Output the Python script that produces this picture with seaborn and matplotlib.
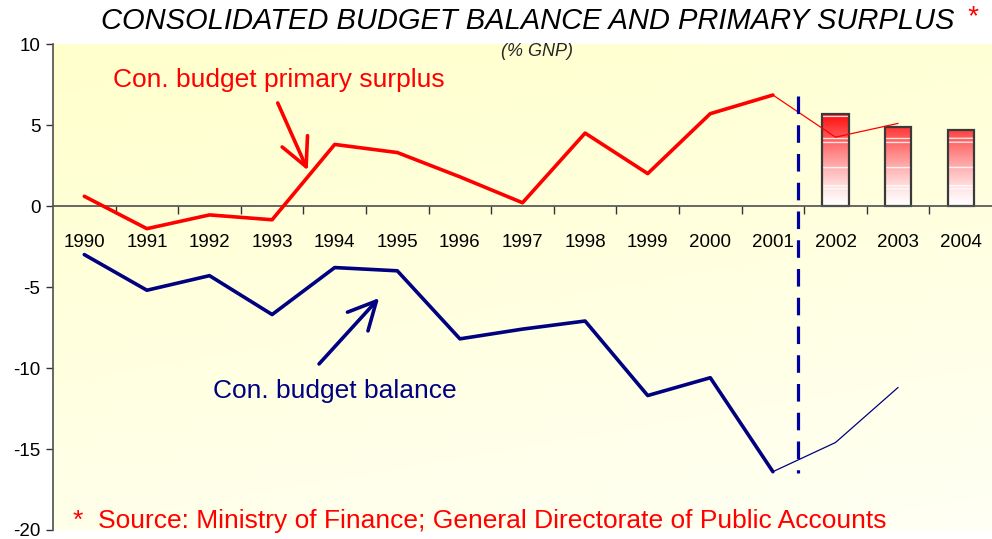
import numpy as np
import matplotlib
matplotlib.use('Agg')
import matplotlib.pyplot as plt
import seaborn as sns
from matplotlib.colors import LinearSegmentedColormap

# data (% GNP)
years = [str(y) for y in range(1990, 2005)]
surplus = [0.6, -1.4, -0.55, -0.85, 3.8, 3.3, 1.8, 0.2, 4.5, 2.0, 5.7, 6.85]
surplus_proj = [6.85, 4.25, 5.1]          # 2001 -> 2003, thin line
balance = [-3.0, -5.2, -4.3, -6.7, -3.8, -4.0, -8.2, -7.6, -7.1, -11.7,
           -10.6, -16.4]
balance_proj = [-16.4, -14.6, -11.2]      # 2001 -> 2003, thin line
bar_years = ['2002', '2003', '2004']
bar_values = [5.7, 4.9, 4.7]
stripe_levels = [5.5, 4.14, 3.9, 2.35, 1.23, 1.05]

RED = '#ff0000'
NAVY = '#000080'

sns.set_theme(style='white')
plt.rcParams['font.family'] = ['Liberation Sans', 'DejaVu Sans']
plt.rcParams['axes.unicode_minus'] = False

pos = np.arange(len(years))
bar_pos = [years.index(y) for y in bar_years]

fig = plt.figure(figsize=(9.92, 5.39), dpi=100)
fig.patch.set_facecolor('white')
ax = fig.add_axes([53 / 992, 9 / 539, 1 - 53 / 992, (530 - 44) / 539])
ax.set_facecolor('white')

# pale yellow background gradient
gy, gx = np.mgrid[0:1:200j, 0:1:200j]
t = np.clip(0.75 * gy + 0.25 * gx, 0, 1)
bg_cmap = LinearSegmentedColormap.from_list('bg', ['#ffffcc', '#fffff4'])
ax.imshow(t, cmap=bg_cmap, extent=[0, 1, 0, 1], transform=ax.transAxes,
          aspect='auto', zorder=0, interpolation='bilinear')

# bars for 2002-2004
sns.barplot(x=bar_pos, y=bar_values, native_scale=True, width=0.42,
            fill=False, edgecolor='#3a3a3a', linewidth=1.6, ax=ax, zorder=3)

vals = np.linspace(6, 0, 600)
grad = np.clip(vals / 5.6, 0, 1) ** 1.3
rgb = np.ones((600, 1, 3))
rgb[:, 0, 1] = 1 - 0.95 * grad
rgb[:, 0, 2] = 1 - 0.95 * grad
for lv in stripe_levels:
    rgb[np.abs(vals - lv) < 0.035] = 1.0
for p in ax.patches:
    x0 = p.get_x()
    im = ax.imshow(rgb, extent=[x0, x0 + p.get_width(), 0, 6],
                   aspect='auto', zorder=2, interpolation='bilinear')
    im.set_clip_path(p)

# lines
sns.lineplot(x=pos[:12], y=surplus, color=RED, linewidth=2.6, ax=ax,
             zorder=5)
sns.lineplot(x=pos[11:14], y=surplus_proj, color=RED, linewidth=0.9, ax=ax,
             zorder=5)
sns.lineplot(x=pos[:12], y=balance, color=NAVY, linewidth=2.6, ax=ax,
             zorder=5)
sns.lineplot(x=pos[11:14], y=balance_proj, color=NAVY, linewidth=0.9, ax=ax,
             zorder=5)

# forecast separator
ax.plot([11.4, 11.4], [6.8, -16.5], color='#0000a0', linewidth=2.3,
        linestyle=(0, (5.5, 3.5)), zorder=6)

# labels and arrows
ax.text(0.46, 7.8, 'Con. budget primary surplus', color=RED, fontsize=19,
        va='center', ha='left', zorder=7)
ax.annotate('', xy=(3.57, 2.2), xytext=(3.09, 6.36),
            arrowprops=dict(arrowstyle='->,head_length=1.0,head_width=0.5',
                            color=RED, lw=2.6, mutation_scale=20,
                            shrinkA=0, shrinkB=0), zorder=7)
ax.text(2.06, -11.42, 'Con. budget balance', color=NAVY, fontsize=19,
        va='center', ha='left', zorder=7)
ax.annotate('', xy=(4.71, -5.68), xytext=(3.75, -9.75),
            arrowprops=dict(arrowstyle='->,head_length=1.0,head_width=0.5',
                            color=NAVY, lw=2.6, mutation_scale=20,
                            shrinkA=0, shrinkB=0), zorder=7)
ax.text(-0.18, -19.44,
        '*  Source: Ministry of Finance; General Directorate of Public Accounts',
        color=RED, fontsize=19, va='center', ha='left', zorder=7)

# axes
ax.set_xlim(-0.5, 14.5)
ax.set_ylim(-20, 10)
for s in ['top', 'right']:
    ax.spines[s].set_visible(False)
ax.spines['bottom'].set_position(('data', 0))
ax.spines['bottom'].set_color('#555555')
ax.spines['left'].set_color('#555555')
ax.spines['bottom'].set_zorder(4)
ax.set_xticks(pos, years)
ax.set_xticks(np.arange(0.5, 14.5, 1), minor=True)
ax.tick_params(axis='x', which='major', length=0, pad=20, labelsize=13.5,
               labelcolor='black')
ax.tick_params(axis='x', which='minor', bottom=True, length=6, width=1,
               direction='out', color='#333333')
ax.set_yticks(range(-20, 11, 5))
ax.tick_params(axis='y', left=True, length=5, width=1, direction='out',
               color='#333333', labelsize=13.5, labelcolor='black', pad=4)
ax.set_xlabel('')
ax.set_ylabel('')
ax.grid(False)

# title
fig.text(528 / 992, 1 - 21 / 539,
         'CONSOLIDATED BUDGET BALANCE AND PRIMARY SURPLUS',
         style='italic', fontsize=21, ha='center', va='center', color='black')
fig.text(966 / 992, 1 - 17 / 539, '*', color=RED, fontsize=20,
         ha='left', va='center', style='italic')
fig.text(537 / 992, 1 - 52 / 539, '(% GNP)', style='italic', fontsize=13,
         ha='center', va='center')

fig.savefig('out.png', dpi=100)
